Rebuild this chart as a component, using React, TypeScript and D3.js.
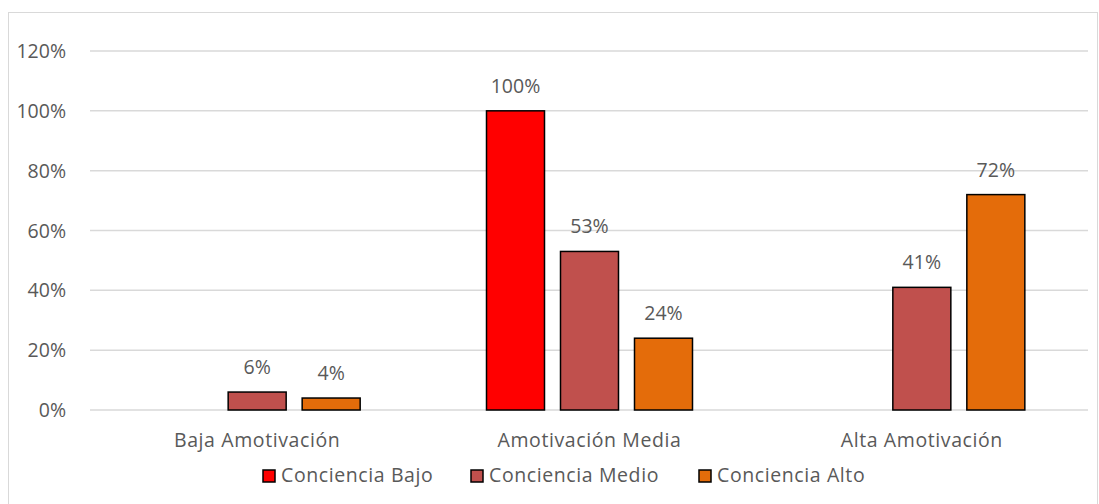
import React from "react";
import * as d3 from "d3";

const categories = ["Baja Amotivación", "Amotivación Media", "Alta Amotivación"];
const seriesNames = ["Conciencia Bajo", "Conciencia Medio", "Conciencia Alto"];
const bajo = [null, 100, null];
const medio = [6, 53, 41];
const alto = [4, 24, 72];
const yTicks = [0, 20, 40, 60, 80, 100, 120];
const colors = ["#FF0000", "#C0504D", "#E46C0A"];

const series = [bajo, medio, alto];

export default function App() {
  const W = 1099, H = 504;
  const left = 91, right = 1088, top = 51, bottom = 410;
  const x = d3.scaleBand().domain(categories).range([left, right]).padding(0);
  const y = d3.scaleLinear().domain([0, 120]).range([bottom, top]);
  const barW = 58, gap = 16;
  const groupW = 3 * barW + 2 * gap;
  const font = "'Open Sans', sans-serif";
  const textColor = "#595959";
  const fs = 19.5;

  const legendItems = [
    { sq: 263, tx: 281 },
    { sq: 471, tx: 489 },
    { sq: 699, tx: 717 },
  ];

  return (
    <svg width={W} height={H} style={{ position: "absolute", left: 0, top: 0 }}>
      <rect x={0} y={0} width={W} height={H} fill="#fff" />
      <rect x={8.5} y={12.5} width={1089} height={500} fill="#fff" stroke="#d9d9d9" strokeWidth={1} />
      {yTicks.map((t) => (
        <g key={t}>
          <line x1={left - 1} x2={right} y1={y(t)} y2={y(t)} stroke="#d9d9d9" strokeWidth={1.5} />
          <text x={66} y={y(t) + 7} textAnchor="end" fontFamily={font} fontSize={fs} fill={textColor}>
            {t}%
          </text>
        </g>
      ))}
      {categories.map((c, ci) => {
        const cx = (x(c) as number) + x.bandwidth() / 2;
        const start = cx - groupW / 2;
        return (
          <g key={c}>
            {series.map((s, si) => {
              const v = s[ci];
              if (v == null) return null;
              const bx = start + si * (barW + gap);
              return (
                <g key={si}>
                  <rect x={bx} y={y(v)} width={barW} height={y(0) - y(v)} fill={colors[si]} stroke="#000" strokeWidth={1.5} />
                  <text x={bx + barW / 2} y={y(v) - 18} textAnchor="middle" fontFamily={font} fontSize={fs} fill={textColor}>
                    {v}%
                  </text>
                </g>
              );
            })}
            <text x={cx} y={447} textAnchor="middle" fontFamily={font} fontSize={fs} letterSpacing={0.6} fill={textColor}>
              {c}
            </text>
          </g>
        );
      })}
      {seriesNames.map((n, i) => (
        <g key={n}>
          <rect x={legendItems[i].sq} y={470} width={12} height={12} fill={colors[i]} stroke="#000" strokeWidth={1.5} />
          <text x={legendItems[i].tx} y={482} fontFamily={font} fontSize={fs} letterSpacing={0.6} fill={textColor}>
            {n}
          </text>
        </g>
      ))}
    </svg>
  );
}
